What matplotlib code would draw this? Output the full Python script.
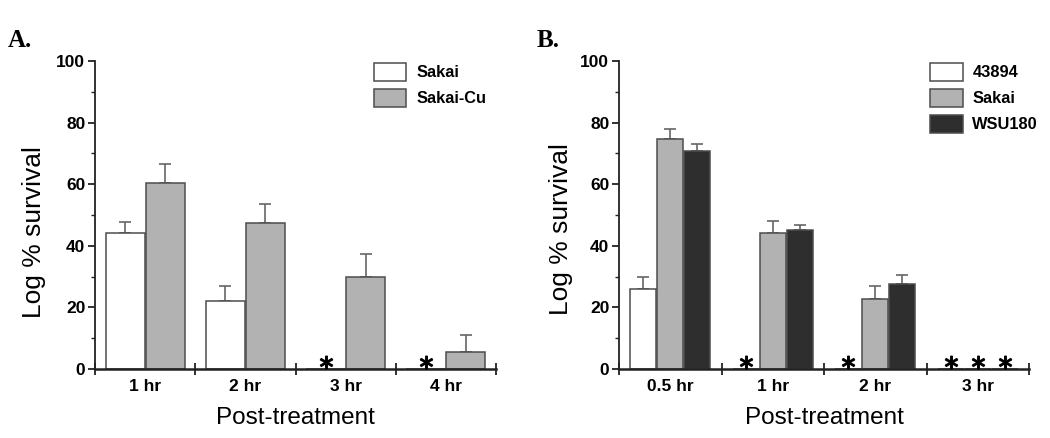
import numpy as np
import matplotlib
matplotlib.use("Agg")
import matplotlib.pyplot as plt

plt.rcParams['font.family'] = ['Liberation Sans', 'DejaVu Sans']

# ---------------- data ----------------
cats_a = ["1 hr", "2 hr", "3 hr", "4 hr"]
sakai_a = [44.0, 22.2, 0.0, 0.0]
sakai_a_err = [3.8, 4.9, 0.0, 0.0]
sakaicu_a = [60.3, 47.5, 30.0, 5.6]
sakaicu_a_err = [6.3, 6.0, 7.2, 5.6]
series_a = ["Sakai", "Sakai-Cu"]

cats_b = ["0.5 hr", "1 hr", "2 hr", "3 hr"]
s43894_b = [25.9, 0.0, 0.0, 0.0]
s43894_b_err = [4.0, 0.0, 0.0, 0.0]
sakai_b = [74.7, 44.3, 22.6, 0.0]
sakai_b_err = [3.2, 3.8, 4.5, 0.0]
wsu_b = [70.8, 45.1, 27.5, 0.0]
wsu_b_err = [2.2, 1.7, 2.9, 0.0]
series_b = ["43894", "Sakai", "WSU180"]

yticks = [0, 20, 40, 60, 80, 100]
ylabel = "Log % survival"
xlabel = "Post-treatment"

# ---------------- style ----------------
C_WHITE = "#ffffff"
C_GRAY = "#b2b2b2"
C_DARK = "#2e2e2e"
EDGE = "#4d4d4d"
ERRC = "#666666"

fig = plt.figure(figsize=(10.5, 4.38), dpi=100)


def setup_axes(ax, cats, ylab_x, ylab_y):
    n = len(cats)
    ax.set_xlim(0.5, n + 0.5)
    ax.set_ylim(0, 100)
    ax.spines['top'].set_visible(False)
    ax.spines['right'].set_visible(False)
    ax.spines['left'].set_linewidth(1.3)
    ax.spines['left'].set_color("#222222")
    ax.spines['bottom'].set_linewidth(1.8)
    ax.spines['bottom'].set_color("#222222")
    ax.set_yticks(yticks)
    ax.set_yticks(np.arange(10, 100, 20), minor=True)
    ax.tick_params(axis='y', which='major', direction='out', length=5, width=1.3,
                   labelsize=12.5, pad=2, color="#222222")
    ax.tick_params(axis='y', which='minor', direction='out', length=3, width=1.0,
                   color="#222222")
    for lab in ax.get_yticklabels():
        lab.set_fontweight('bold')
    # boundary ticks on x axis (crossing), labels at category centers
    ax.set_xticks(np.arange(0.5, n + 1.0, 1.0))
    ax.set_xticklabels([])
    ax.tick_params(axis='x', which='major', direction='inout', length=8, width=1.3,
                   color="#222222")
    ax.set_xticks(np.arange(1, n + 1), minor=True)
    ax.set_xticklabels(cats, minor=True, fontweight='bold', fontsize=12.5)
    ax.tick_params(axis='x', which='minor', length=0, pad=7)
    ax.set_ylabel(ylabel, fontsize=19)
    ax.yaxis.set_label_coords(ylab_x, ylab_y)
    ax.set_xlabel(xlabel, fontsize=17.5)
    ax.xaxis.set_label_coords(0.5, -0.125)


def draw_bars(ax, values, errs, offsets, width, colors, labels):
    x = np.arange(1, len(values[0]) + 1)
    for vals, err, off, col, lab in zip(values, errs, offsets, colors, labels):
        vals = np.asarray(vals)
        err = np.asarray(err)
        xs = x + off
        ax.bar(xs, vals, width=width, color=col, edgecolor=EDGE, linewidth=1.1,
               label=lab, zorder=2)
        mask = vals > 0
        ax.errorbar(xs[mask], vals[mask], yerr=[np.zeros(mask.sum()), err[mask]],
                    fmt='none', ecolor=ERRC, elinewidth=1.2, capsize=4.5,
                    capthick=1.2, zorder=1)
        zero = ~mask
        ax.plot(xs[zero], np.full(zero.sum(), 2.4), ls='none', marker='$*$',
                ms=9, color='black', zorder=3)


# Panel A
axA = fig.add_axes([95 / 1050, 1 - 369 / 438, (496 - 95) / 1050, (369 - 61) / 438])
setup_axes(axA, cats_a, -0.122, 0.443)
draw_bars(axA, [sakai_a, sakaicu_a], [sakai_a_err, sakaicu_a_err],
          [-0.2, 0.2], 0.39, [C_WHITE, C_GRAY], series_a)

# Panel B
axB = fig.add_axes([619 / 1050, 1 - 369 / 438, (1029 - 619) / 1050, (369 - 61) / 438])
setup_axes(axB, cats_b, -0.112, 0.455)
draw_bars(axB, [s43894_b, sakai_b, wsu_b], [s43894_b_err, sakai_b_err, wsu_b_err],
          [-0.265, 0.0, 0.265], 0.255, [C_WHITE, C_GRAY, C_DARK], series_b)

for ax, xa in ((axA, 1.0), (axB, 1.046)):
    ax.legend(loc='upper right', frameon=False, prop={'weight': 'bold', 'size': 11.8},
              handlelength=2.0, handleheight=1.3, handletextpad=0.6,
              labelspacing=0.5, borderaxespad=0.2,
              bbox_to_anchor=(xa, 1.026))

fig.text(8 / 1050, 1 - 47 / 438, "A.", fontsize=18, fontweight='bold',
         family=['Liberation Serif', 'DejaVu Serif'])
fig.text(537 / 1050, 1 - 47 / 438, "B.", fontsize=18, fontweight='bold',
         family=['Liberation Serif', 'DejaVu Serif'])

fig.savefig("out.png", dpi=100)
